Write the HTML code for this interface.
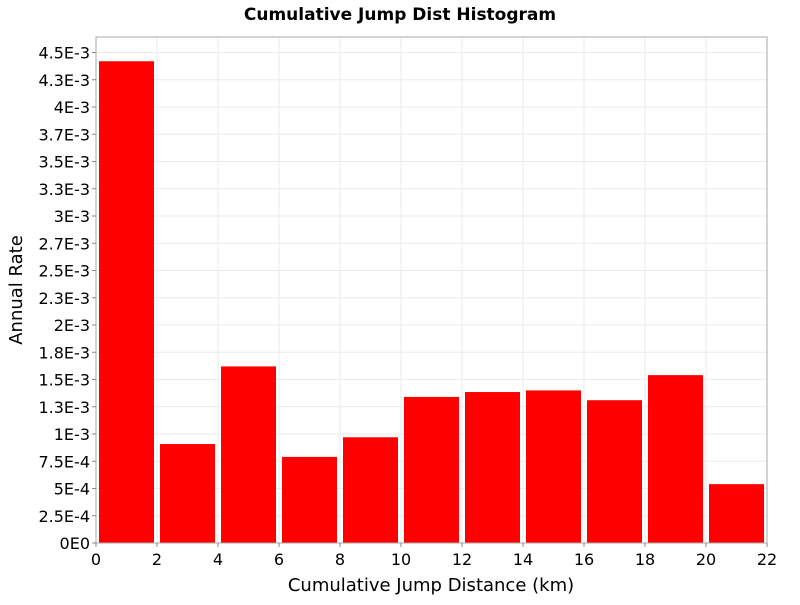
<!DOCTYPE html>
<html><head><meta charset="utf-8"><style>
body{margin:0;background:#fff;}
svg text{font-family:"DejaVu Sans","Liberation Sans",sans-serif;}
</style></head><body>
<svg id="chart" width="800" height="600" xmlns="http://www.w3.org/2000/svg">
<rect width="800" height="600" fill="#fff"/>
<text x="400" y="20" text-anchor="middle" font-size="17" font-weight="bold">Cumulative Jump Dist Histogram</text>
<g id="grid"></g>
<g id="bars"></g>
<rect x="96" y="37" width="671" height="506" fill="none" stroke="#aaa" stroke-width="1"/>
<g id="yticks"></g>
<g id="xticks"></g>
<text x="431" y="591" text-anchor="middle" font-size="18">Cumulative Jump Distance (km)</text>
<text transform="translate(22,290) rotate(-90)" text-anchor="middle" font-size="18">Annual Rate</text>
</svg>
<script>
const binStarts=[0,2,4,6,8,10,12,14,16,18,20];
const rates=[4.42e-3,0.908e-3,1.62e-3,0.79e-3,0.97e-3,1.34e-3,1.385e-3,1.40e-3,1.31e-3,1.54e-3,0.54e-3];
const yTickValues=[0,2.5e-4,5e-4,7.5e-4,1e-3,1.25e-3,1.5e-3,1.75e-3,2e-3,2.25e-3,2.5e-3,2.75e-3,3e-3,3.25e-3,3.5e-3,3.75e-3,4e-3,4.25e-3,4.5e-3];
const yTickLabels=["0E0","2.5E-4","5E-4","7.5E-4","1E-3","1.3E-3","1.5E-3","1.8E-3","2E-3","2.3E-3","2.5E-3","2.7E-3","3E-3","3.3E-3","3.5E-3","3.7E-3","4E-3","4.3E-3","4.5E-3"];
const xTickValues=[0,2,4,6,8,10,12,14,16,18,20,22];
const binWidth=2;
const NS="http://www.w3.org/2000/svg";
const X0=96,X1=767,Y0=543;
function xs(v){return X0+(v/22)*(X1-X0);}
function ys(v){return Y0-v/2.5e-4*27.25;}
function mk(tag,attrs,parent){const e=document.createElementNS(NS,tag);for(const k in attrs)e.setAttribute(k,attrs[k]);document.getElementById(parent).appendChild(e);return e;}
yTickValues.forEach((v,i)=>{
  const y=ys(v);
  const g=mk('line',{x1:X0,x2:X1,y1:y,y2:y,stroke:'#ebebeb'},'grid');
  
  
  const t=mk('line',{x1:X0-4,x2:X0,y1:y,y2:y,stroke:'#888'},'yticks');
  
  
  const l=mk('text',{x:X0-6,y:y+6,'text-anchor':'end','font-size':'16'},'yticks');
  l.textContent=yTickLabels[i];
  
  
});
xTickValues.forEach(v=>{
  const x=xs(v);
  const g=mk('line',{x1:x,x2:x,y1:37,y2:Y0,stroke:'#ebebeb'},'grid');
  
  
  const t=mk('line',{x1:x,x2:x,y1:Y0,y2:Y0+4,stroke:'#888'},'xticks');
  
  
  const l=mk('text',{x:x,y:Y0+22,'text-anchor':'middle','font-size':'16'},'xticks');
  l.textContent=String(v);
  
  
});
binStarts.forEach((b,i)=>{
  const xa=Math.max(X0+2,xs(b)+3), xb=xs(b+binWidth)-3;
  const y=ys(rates[i]);
  const r=mk('rect',{x:xa,y:y,width:xb-xa,height:Y0-y,fill:'#ff0000'},'bars');
  
  
});
</script>
</body></html>
